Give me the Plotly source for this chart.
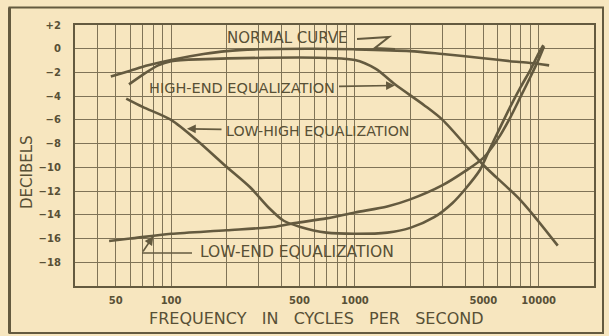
import math
import plotly.graph_objects as go

# ---- response curves (frequency in c/s, level in dB) ----
normal_hz = [47, 60, 75, 100, 150, 200, 300, 600, 1000, 2000, 3000, 5000, 7000, 9000, 11400]
normal_db = [-2.35, -1.85, -1.4, -0.95, -0.45, -0.2, -0.05, 0.0, -0.05, -0.2, -0.45, -0.8, -1.05, -1.2, -1.4]

high_end_hz = [59, 70, 85, 100, 140, 1000, 1300, 1650, 2400, 3000, 5000, 8000, 12700]
high_end_db = [-3.0, -2.2, -1.4, -1.05, -0.9, -0.95, -1.7, -3.0, -4.8, -6.0, -9.8, -12.8, -16.6]

low_high_hz = [57, 70, 100, 140, 195, 270, 340, 410, 500, 700, 1000, 1500, 2000, 2700, 3400,
               4000, 4800, 5400, 6100, 7000, 8000, 9000, 10000, 10600]
low_high_db = [-4.2, -4.9, -6.0, -7.8, -9.8, -11.7, -13.4, -14.5, -15.0, -15.5, -15.6, -15.5, -15.1, -14.2, -13.0,
               -11.8, -10.2, -8.5, -6.8, -4.9, -3.2, -1.8, -0.4, 0.3]

low_end_hz = [46, 60, 100, 200, 370, 470, 700, 1000, 1500, 2000, 3000, 4000, 5000, 6000, 7000,
              8000, 9000, 10000, 10700]
low_end_db = [-16.2, -16.0, -15.6, -15.3, -15.0, -14.7, -14.3, -13.8, -13.3, -12.7, -11.5, -10.3, -9.2, -7.6, -5.8,
              -4.0, -2.4, -0.9, 0.2]

# ---- axes ----
grid_hz = [40, 50, 60, 70, 80, 90, 100, 200, 300, 400, 500, 600, 700, 800, 900, 1000,
           2000, 3000, 4000, 5000, 6000, 7000, 8000, 9000, 10000]
label_hz = [50, 100, 500, 1000, 5000, 10000]
db_ticks = [-18, -16, -14, -12, -10, -8, -6, -4, -2, 0, 2]
db_labels = ["\u221218", "\u221216", "\u221214", "\u221212", "\u221210", "\u22128", "\u22126",
             "\u22124", "\u22122", "0", "+2"]

HZ_RANGE = (30, 20000)
DB_RANGE = (-20, 2)

W, H = 609, 336
ML, MR, MT, MB = 75, 15, 25, 50

PAPER = "#f7e6bf"
GRID = "#7f7357"
INK = "#645a3f"
TEXT = "#585036"
FONT = "DejaVu Sans"


def to_px(hz, db):
    """Data point -> page pixel position (for arrow offsets)."""
    lo, hi = math.log10(HZ_RANGE[0]), math.log10(HZ_RANGE[1])
    x = ML + (math.log10(hz) - lo) / (hi - lo) * (W - ML - MR)
    y = MT + (DB_RANGE[1] - db) / (DB_RANGE[1] - DB_RANGE[0]) * (H - MT - MB)
    return x, y


def px(x):
    return (x - ML) / (W - ML - MR)


def py(y):
    return (H - MB - y) / (H - MT - MB)


fig = go.Figure()

for hz, db in [(normal_hz, normal_db), (high_end_hz, high_end_db),
               (low_high_hz, low_high_db), (low_end_hz, low_end_db)]:
    fig.add_trace(go.Scatter(
        x=hz, y=db, mode="lines",
        line=dict(color=INK, width=2.6, shape="spline", smoothing=0.8),
        hoverinfo="skip", showlegend=False,
    ))

annotations = []
shapes = []


def label(text, x, y, size, angle=0):
    annotations.append(dict(text=text, xref="paper", yref="paper",
                            x=px(x), y=py(y), xanchor="center", yanchor="middle",
                            textangle=angle, showarrow=False,
                            font=dict(family=FONT, size=size, color=TEXT)))


# outer frame of the figure
shapes.append(dict(type="rect", xref="paper", yref="paper",
                   x0=px(9.5), x1=px(603), y0=py(333), y1=py(7.5),
                   line=dict(color=INK, width=2), layer="below"))
shapes.append(dict(type="line", xref="paper", yref="paper",
                   x0=px(9.5), x1=px(9.5), y0=py(333), y1=py(7.5),
                   line=dict(color=INK, width=3)))

# normal curve label with its Z-shaped leader
label("NORMAL\u00a0CURVE", 287, 38, 15)
zx = [357, 389, 375, 395]
zy = [39, 37, 48, 49]
path = "M " + " L ".join(f"{px(a):.4f},{py(b):.4f}" for a, b in zip(zx, zy))
shapes.append(dict(type="path", xref="paper", yref="paper", path=path,
                   line=dict(color=INK, width=2)))


def labelled_arrow(text, tip_hz, tip_db, cx, cy, size):
    tx, ty = to_px(tip_hz, tip_db)
    annotations.append(dict(
        text=text, x=math.log10(tip_hz), y=tip_db, xref="x", yref="y",
        ax=cx - tx, ay=cy - ty, axref="pixel", ayref="pixel",
        showarrow=True, arrowhead=2, arrowsize=1.1, arrowwidth=1.6, arrowcolor=INK,
        standoff=0, borderpad=4,
        font=dict(family=FONT, size=size, color=TEXT),
    ))


labelled_arrow("HIGH-END EQUALIZATION", 1650, -3.1, 241.5, 88, 14.5)
labelled_arrow("LOW-HIGH EQUALIZATION", 122, -6.75, 317.5, 131, 14.2)

# low-end label: horizontal leader then a short arrow up to the curve
label("LOW-END EQUALIZATION", 297, 252, 15.5)
shapes.append(dict(type="line", xref="paper", yref="paper",
                   x0=px(142), x1=px(192), y0=py(253), y1=py(253),
                   line=dict(color=INK, width=1.6)))
tx, ty = to_px(80, -15.8)
annotations.append(dict(text="", x=math.log10(80), y=-15.8, xref="x", yref="y",
                        ax=142 - tx, ay=253 - ty, axref="pixel", ayref="pixel",
                        showarrow=True, arrowhead=2, arrowsize=1.1, arrowwidth=1.6,
                        arrowcolor=INK, standoff=0))

# axis titles
label("DECIBELS", 27, 172, 15, angle=-90)
label("FREQUENCY\u00a0\u00a0\u00a0IN\u00a0\u00a0\u00a0CYCLES\u00a0\u00a0\u00a0PER\u00a0\u00a0\u00a0SECOND", 316, 318, 16)

fig.update_layout(
    width=W, height=H,
    margin=dict(l=ML, r=MR, t=MT, b=MB, pad=0),
    paper_bgcolor=PAPER, plot_bgcolor=PAPER,
    showlegend=False,
    annotations=annotations, shapes=shapes,
    xaxis=dict(
        type="log", range=[math.log10(HZ_RANGE[0]), math.log10(HZ_RANGE[1])],
        tickmode="array", tickvals=grid_hz,
        ticktext=[str(v) if v in label_hz else "" for v in grid_hz],
        showgrid=True, gridcolor=GRID, gridwidth=1.4,
        showline=True, mirror=True, linecolor=INK, linewidth=2.2,
        ticks="", zeroline=False, ticklabelstandoff=4,
        tickfont=dict(family=FONT, size=10, color=TEXT, weight=600),
    ),
    yaxis=dict(
        range=list(DB_RANGE), tickmode="array", tickvals=db_ticks, ticktext=db_labels,
        showgrid=True, gridcolor=GRID, gridwidth=1.4,
        showline=True, mirror=True, linecolor=INK, linewidth=2.2,
        ticks="", zeroline=False, ticklabelstandoff=10,
        tickfont=dict(family=FONT, size=10, color=TEXT, weight=600),
    ),
)

fig.write_html("out.html")
